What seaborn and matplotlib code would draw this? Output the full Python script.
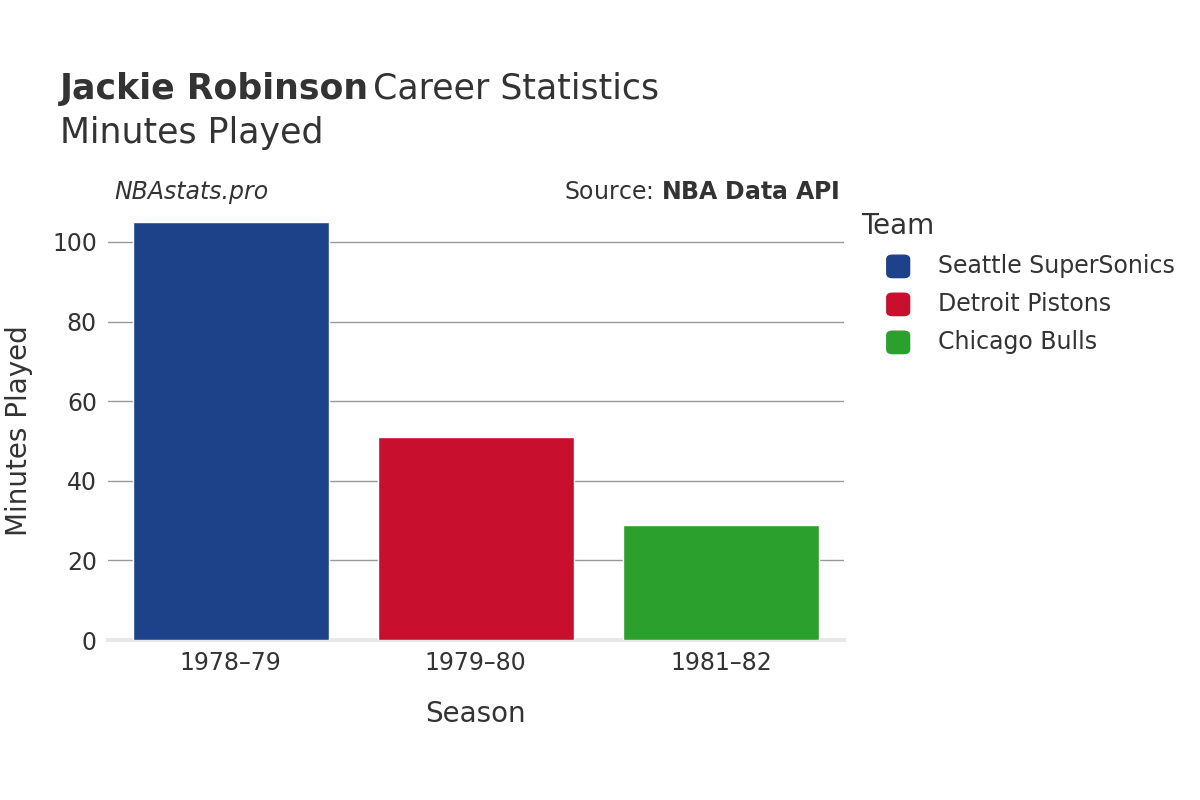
import matplotlib
matplotlib.use("Agg")
import matplotlib.pyplot as plt
import seaborn as sns
import pandas as pd

seasons = ["1978\u201379", "1979\u201380", "1981\u201382"]
teams = ["Seattle SuperSonics", "Detroit Pistons", "Chicago Bulls"]
minutes = [105, 51, 29]
colors = ["#1d4289", "#c8102e", "#2ca02c"]

df = pd.DataFrame({"Season": seasons, "Team": teams, "Minutes": minutes})

sns.set_style("white")
fig = plt.figure(figsize=(12, 8), dpi=100)
ax = fig.add_axes([0.09, 0.2, 0.613, 0.5225])

sns.barplot(data=df, x="Season", y="Minutes", hue="Team", palette=colors,
            dodge=False, width=0.8, saturation=1, legend=False, ax=ax, zorder=3)

ax.set_ylim(0, 105)
ax.set_yticks([0, 20, 40, 60, 80, 100])
ax.yaxis.grid(True, color="#999999", linewidth=1, zorder=0)
for s in ["top", "right", "left"]:
    ax.spines[s].set_visible(False)
ax.spines["bottom"].set_color("#e8e8e8")
ax.spines["bottom"].set_linewidth(3)
ax.tick_params(axis="both", length=0, labelsize=17, labelcolor="#333333", pad=8)
ax.set_xlabel("Season", fontsize=20, color="#333333", labelpad=18)
ax.set_ylabel("Minutes Played", fontsize=20, color="#333333", labelpad=14)

fig.text(0.05, 0.889, "Jackie Robinson", fontsize=25, fontweight="bold", color="#333333", va="center")
fig.text(0.311, 0.889, "Career Statistics", fontsize=25, color="#333333", va="center")
fig.text(0.05, 0.834, "Minutes Played", fontsize=25, color="#333333", va="center")
fig.text(0.095, 0.76, "NBAstats.pro", fontsize=17, style="italic", color="#333333", va="center")
fig.text(0.70, 0.76, "Source: $\\bf{NBA\\ Data\\ API}$", fontsize=17, color="#333333", va="center", ha="right")

fig.text(0.718, 0.717, "Team", fontsize=20, color="#333333", va="center")
for i, (t, c) in enumerate(zip(teams, colors)):
    y = 0.667 - i * 0.0475
    fig.patches.append(matplotlib.patches.FancyBboxPatch(
        (0.739, y - 0.014), 0.019, 0.028, boxstyle="round,pad=0,rounding_size=0.005",
        transform=fig.transFigure, color=c, figure=fig))
    fig.text(0.782, y, t, fontsize=17, color="#333333", va="center")

fig.savefig("out.png", dpi=100)
